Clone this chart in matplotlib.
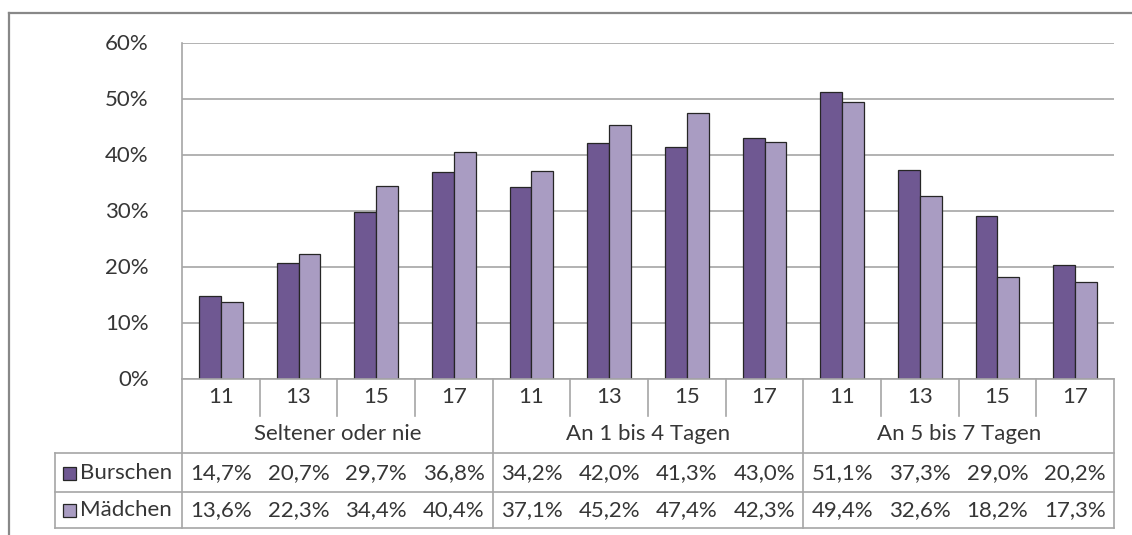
import numpy as np
import matplotlib.pyplot as plt
import matplotlib.transforms as mtransforms
from matplotlib.patches import Rectangle
from matplotlib.lines import Line2D

plt.rcParams['font.family'] = ['Lato', 'DejaVu Sans']

ages = ["11", "13", "15", "17"]
groups = ["Seltener oder nie", "An 1 bis 4 Tagen", "An 5 bis 7 Tagen"]
burschen = [14.7, 20.7, 29.7, 36.8, 34.2, 42.0, 41.3, 43.0, 51.1, 37.3, 29.0, 20.2]
maedchen = [13.6, 22.3, 34.4, 40.4, 37.1, 45.2, 47.4, 42.3, 49.4, 32.6, 18.2, 17.3]
series_names = ["Burschen", "Mädchen"]
colors = ["#6f5892", "#a99cc2"]

W, H = 1132, 535
fig = plt.figure(figsize=(W / 100, H / 100), dpi=100)
txt = "#363636"
grid = "#a6a6a6"
fs = 16


def fy(py):
    # pixel row (from top) -> figure fraction
    return 1 - py / H


def fx(px):
    return px / W


ax = fig.add_axes([fx(182), fy(378.5), fx(1114) - fx(182), fy(42.5) - fy(378.5)])

n = len(burschen)
x = np.arange(n)
bw = 0.283
ax.bar(x - bw / 2, burschen, bw, color=colors[0], edgecolor="#262626", linewidth=0.9, zorder=3)
ax.bar(x + bw / 2, maedchen, bw, color=colors[1], edgecolor="#262626", linewidth=0.9, zorder=3)

ax.set_xlim(-0.5, n - 0.5)
ax.set_ylim(0, 60)
ax.set_yticks(range(0, 61, 10))
ax.set_yticklabels([f"{v}%" for v in range(0, 61, 10)], fontsize=fs, color=txt)
ax.tick_params(axis="y", length=0, pad=24)
ax.set_xticks([])
ax.yaxis.grid(True, color=grid, linewidth=1.2, zorder=0)
for s in ["top", "right", "bottom"]:
    ax.spines[s].set_visible(False)
ax.spines["left"].set_color(grid)
ax.spines["left"].set_linewidth(1.2)

# table under the axis: x in data units, y in figure fraction
tr = mtransforms.blended_transform_factory(ax.transData, fig.transFigure)
lw = 1.2


def vline(xd, py0, py1):
    fig.add_artist(Line2D([xd, xd], [fy(py0), fy(py1)], transform=tr, color=grid, lw=lw))


def hline(px0, px1, py):
    fig.add_artist(Line2D([fx(px0), fx(px1)], [fy(py), fy(py)], transform=fig.transFigure, color=grid, lw=lw))


hline(182, 1114, 378.5)
for i in range(n + 1):
    if i % 4 == 0:
        vline(i - 0.5, 378.5, 528)
    else:
        vline(i - 0.5, 378.5, 416)
hline(55, 1114, 453)
hline(55, 1114, 492)
hline(55, 1114, 528)
fig.add_artist(Line2D([fx(55), fx(55)], [fy(453), fy(528)], transform=fig.transFigure, color=grid, lw=lw))

for i in range(n):
    fig.text(i, fy(397), ages[i % 4], transform=tr, ha="center", va="center", fontsize=fs, color=txt)
    fig.text(i, fy(473), f"{burschen[i]:.1f}%".replace(".", ","), transform=tr,
             ha="center", va="center", fontsize=fs, color=txt)
    fig.text(i, fy(510.5), f"{maedchen[i]:.1f}%".replace(".", ","), transform=tr,
             ha="center", va="center", fontsize=fs, color=txt)
for g, name in enumerate(groups):
    fig.text(g * 4 + 1.5, fy(434), name, transform=tr, ha="center", va="center", fontsize=fs, color=txt)

for r, (name, c) in enumerate(zip(series_names, colors)):
    cy = [473, 510.5][r]
    fig.add_artist(Rectangle((fx(63), fy(cy + 6.5)), 13 / W, 13 / H, transform=fig.transFigure,
                             facecolor=c, edgecolor="#262626", lw=0.9))
    fig.text(fx(80), fy(cy), name, ha="left", va="center", fontsize=fs, color=txt)

# outer chart frame (cropped on right and bottom)
fig.add_artist(Line2D([fx(9), fx(W)], [fy(13), fy(13)], transform=fig.transFigure, color="#888888", lw=1.6))
fig.add_artist(Line2D([fx(9), fx(9)], [fy(13), fy(H)], transform=fig.transFigure, color="#888888", lw=1.6))

fig.savefig("out.png", dpi=100)
